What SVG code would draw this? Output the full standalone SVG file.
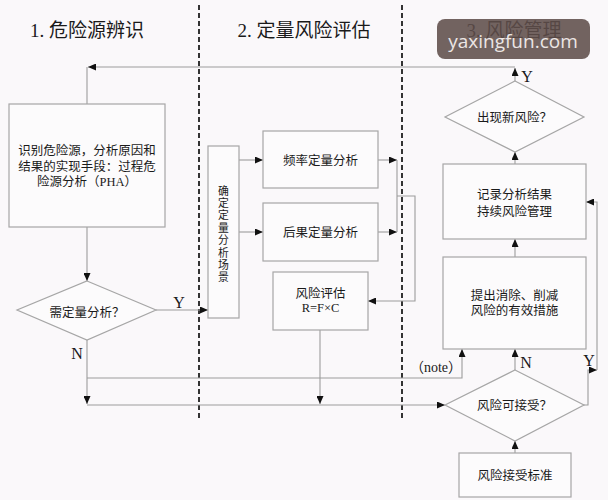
<svg xmlns="http://www.w3.org/2000/svg" width="608" height="500" viewBox="0 0 608 500">
<defs>
<style>
.t{font-family:"Liberation Serif","Noto Sans CJK SC",serif;fill:#1a1a1a;text-anchor:middle}
.b{font-size:12.5px}
.v{font-size:10.8px}
.h{font-size:19px}
.yn{font-size:16px}
.cj{font-family:"Noto Sans CJK SC",sans-serif}
.box{fill:#fcfbfc;stroke:#a6a6a6;stroke-width:1.2}
.ln{fill:none;stroke:#9c9c9c;stroke-width:1.1}
.ar{marker-end:url(#ah)}
.dash{stroke:#333;stroke-width:2;stroke-dasharray:5 3}
</style>
<marker id="ah" markerUnits="userSpaceOnUse" markerWidth="8" markerHeight="7" refX="8" refY="3.5" orient="auto">
<path d="M0,0 L8,3.5 L0,7 z" fill="#111"/>
</marker>
</defs>
<rect width="608" height="500" fill="#faf8fa"/>
<g id="lanes">
<line class="dash" x1="199" y1="5" x2="199" y2="418"/>
<line class="dash" x1="402" y1="5" x2="402" y2="418"/>
<text class="t h" x="87" y="37">1. 危险源辨识</text>
<text class="t h" x="304" y="37">2. 定量风险评估</text>
<text class="t h" x="514" y="37">3. 风险管理</text>
</g>
<g id="watermark">
<rect x="437" y="19" width="153" height="40" rx="8" fill="#5f4d4a" opacity="0.88"/>
<text x="513" y="48" font-family="'Open Sans','Noto Sans',sans-serif" font-size="19" fill="#ece6e4" text-anchor="middle">yaxingfun.com</text>
</g>
<g id="connectors">
<path class="ln ar" d="M515,81 V68"/>
<path class="ln ar" d="M515,67 H88"/>
<path class="ln" d="M87,67 V104"/>
<path class="ln ar" d="M87,227 V281"/>
<path class="ln ar" d="M156,310 H208"/>
<path class="ln ar" d="M239,160 H263"/>
<path class="ln ar" d="M239,232 H263"/>
<path class="ln ar" d="M378,160 H397"/>
<path class="ln ar" d="M378,232 H397"/>
<path class="ln" d="M397,160 V232"/>
<path class="ln ar" d="M397,196 H415 V301 H368"/>
<path class="ln ar" d="M320,330 V404"/>
<path class="ln ar" d="M87,340 V404"/>
<path class="ln ar" d="M87,405 H445"/>
<path class="ln ar" d="M87,378 H462 V349"/>
<path class="ln ar" d="M515,370 V349"/>
<path class="ln ar" d="M515,453 V441"/>
<path class="ln ar" d="M515,257 V239"/>
<path class="ln ar" d="M515,164 V152"/>
<path class="ln ar" d="M583,405 H588 V370 H597"/>
<path class="ln ar" d="M597,370 V202 H586"/>
<text class="t yn" x="179" y="308">Y</text>
<text class="t yn" x="77" y="359">N</text>
<text class="t yn" x="527" y="82">Y</text>
<text class="t yn" x="526" y="368">N</text>
<text class="t yn" x="589" y="366">Y</text>
<text class="t" x="436" y="372" font-size="14"><tspan class="cj">（</tspan>note<tspan class="cj">）</tspan></text>
</g>
<g id="n-pha">
<rect class="box" x="9" y="104" width="156" height="123"/>
<text class="t b" x="87" y="154.5">识别危险源，分析原因和</text>
<text class="t b" x="87" y="170.5">结果的实现手段：过程危</text>
<text class="t b" x="87" y="185.5">险源分析（PHA）</text>
</g>
<g id="n-need">
<polygon class="box" points="87,281 156,310 87,340 17,310"/>
<text class="t b" x="87" y="316.5">需定量分析？</text>
</g>
<g id="n-scene">
<rect class="box" x="208" y="146" width="31" height="172"/>
<text class="t v" x="223.5" y="194.5">确</text>
<text class="t v" x="223.5" y="206.9">定</text>
<text class="t v" x="223.5" y="219.3">定</text>
<text class="t v" x="223.5" y="231.7">量</text>
<text class="t v" x="223.5" y="244.1">分</text>
<text class="t v" x="223.5" y="256.5">析</text>
<text class="t v" x="223.5" y="268.9">场</text>
<text class="t v" x="223.5" y="281.3">景</text>
</g>
<g id="n-freq">
<rect class="box" x="263" y="131" width="115" height="57"/>
<text class="t b" x="320.5" y="164.5">频率定量分析</text>
</g>
<g id="n-cons">
<rect class="box" x="263" y="203" width="115" height="58"/>
<text class="t b" x="320.5" y="236.5">后果定量分析</text>
</g>
<g id="n-eval">
<rect class="box" x="273" y="272" width="95" height="58"/>
<text class="t b" x="320.5" y="297.5">风险评估</text>
<text class="t b" x="320.5" y="311.5">R=F×C</text>
</g>
<g id="n-new">
<polygon class="box" points="515,81 584,117 515,152 445,117"/>
<text class="t b" x="514.5" y="121.5">出现新风险？</text>
</g>
<g id="n-record">
<rect class="box" x="443" y="164" width="143" height="75"/>
<text class="t b" x="514.5" y="198.5">记录分析结果</text>
<text class="t b" x="514.5" y="215.5">持续风险管理</text>
</g>
<g id="n-measure">
<rect class="box" x="443" y="257" width="143" height="92"/>
<text class="t b" x="514.5" y="299.5">提出消除、削减</text>
<text class="t b" x="514.5" y="314.5">风险的有效措施</text>
</g>
<g id="n-accept">
<polygon class="box" points="515,370 584,405 515,441 445,405"/>
<text class="t b" x="514.5" y="409.5">风险可接受？</text>
</g>
<g id="n-criteria">
<rect class="box" x="459" y="453" width="112" height="44"/>
<text class="t b" x="515" y="479.5">风险接受标准</text>
</g>
</svg>
